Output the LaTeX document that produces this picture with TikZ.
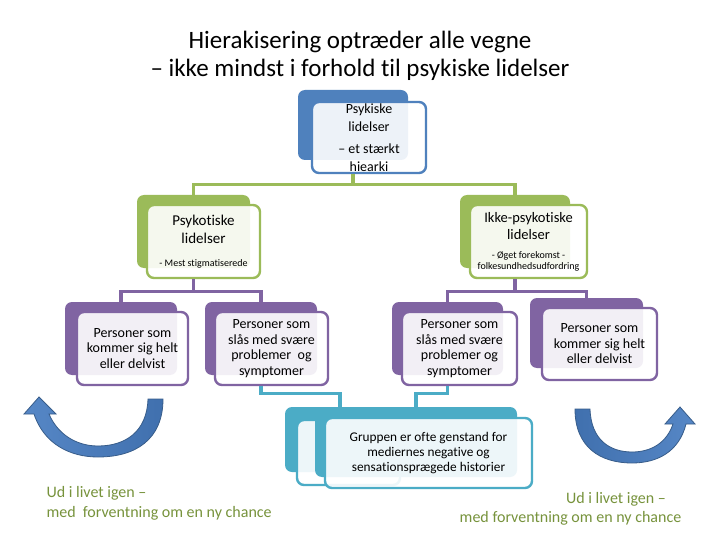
\documentclass[tikz,border=0pt]{standalone}
\usepackage{fontspec}
\setmainfont{Carlito}[Ligatures=NoCommon]
\usepackage{tikz}
\usetikzlibrary{calc}
\definecolor{hblue}{HTML}{4F81BD}
\definecolor{hgreen}{HTML}{9BBB59}
\definecolor{hpurple}{HTML}{8064A2}
\definecolor{hteal}{HTML}{4BACC6}
\definecolor{holive}{HTML}{77933C}
\definecolor{harrowline}{HTML}{385D8A}
\definecolor{harrowdark}{HTML}{4070AE}
\definecolor{harrowlight}{HTML}{5687C6}

\begin{document}
\begin{tikzpicture}[x=1pt,y=-1pt,line cap=round,
  back/.style={fill=#1,rounded corners=7pt,inner sep=0pt},
  front/.style={draw=#1,line width=2.4pt,fill=white,fill opacity=0.9,text opacity=1,
    rounded corners=7pt,inner sep=0pt,align=center},
  link/.style={draw=#1,line width=3.2pt,line cap=butt},
  boxfont/.style={font=\fontsize{14}{15.5}\selectfont},
  bend arrow/.style={draw=harrowline,line width=0.8pt}]
\fill[white] (0,0) rectangle (720,540);
\useasboundingbox (0,0) rectangle (720,540);

\node[align=center,font=\fontsize{25}{28}\selectfont] (title) at (360,56)
  {Hierakisering optræder alle vegne\\– ikke mindst i forhold til psykiske lidelser};

\node[back=hblue,minimum width=110,minimum height=70] (tb) at (353,125) {};
\node[back=hgreen,minimum width=113,minimum height=73] (gl) at (193.5,231.5) {};
\node[back=hgreen,minimum width=110,minimum height=73] (gr) at (515,231.5) {};
\node[back=hpurple,minimum width=112,minimum height=73] (p1) at (121,338.5) {};
\node[back=hpurple,minimum width=112,minimum height=73] (p2) at (261,338.5) {};
\node[back=hpurple,minimum width=111,minimum height=73] (p3) at (447.5,338.5) {};
\node[back=hpurple,minimum width=113,minimum height=70] (p4) at (586.5,333) {};

\node[front=hblue,minimum width=114,minimum height=71,font=\fontsize{14}{17.5}\selectfont] (tbf) at (369,137.5)
  {Psykiske\\lidelser\\[5pt]– et stærkt\\hiearki};
\node[front=hgreen,minimum width=113,minimum height=73,font=\fontsize{15}{18}\selectfont] (glf) at (203.5,241.5)
  {Psykotiske\\lidelser\\[5pt]{\fontsize{10}{11}\selectfont - Mest stigmatiserede}};
\node[front=hgreen,minimum width=117,minimum height=73,font=\fontsize{14.5}{17}\selectfont] (grf) at (528.5,241.5)
  {Ikke-psykotiske\\lidelser\\[2pt]{\fontsize{10}{11}\selectfont - Øget forekomst -}\\[-6pt]{\fontsize{10}{11}\selectfont folkesundhedsudfordring}};

\draw[link=hgreen] (tb |- tbf.south) -- ++(0,10) -| (gl.north);
\draw[link=hgreen] (tb |- tbf.south) -- ++(0,10) -| (gr.north);
\draw[link=hpurple] (gl |- glf.south) -- ++(0,12) -| (p1.north);
\draw[link=hpurple] (gl |- glf.south) -- ++(0,12) -| (p2.north);
\draw[link=hpurple] (gr |- grf.south) -- ++(0,12) -| (p3.north);
\draw[link=hpurple] (gr |- grf.south) -- ++(0,12) -| (p4.north);

\node[front=hpurple,minimum width=111,minimum height=73,boxfont] (p1f) at (132.5,348.5)
  {Personer som\\kommer sig helt\\eller delvist};
\node[front=hpurple,minimum width=113,minimum height=73,boxfont] (p2f) at (271.5,348.5)
  {Personer som\\slås med svære\\problemer~ og\\symptomer};
\node[front=hpurple,minimum width=115,minimum height=73,boxfont] (p3f) at (459.5,348.5)
  {Personer som\\slås med svære\\problemer og\\symptomer};
\node[front=hpurple,minimum width=115,minimum height=72,boxfont] (p4f) at (599.5,344)
  {Personer som\\kommer sig helt\\eller delvist};

\node[back=hteal,minimum width=110,minimum height=65] (t1) at (340,439.5) {};
\node[front=hteal,minimum width=103,minimum height=65] (t1f) at (348.5,452.5) {};
\node[back=hteal,minimum width=202,minimum height=70] (t2) at (416,442) {};
\node[front=hteal,minimum width=207,minimum height=70,font=\fontsize{13.3}{15}\selectfont] (t2f) at (428.5,453)
  {Gruppen er ofte genstand for\\mediernes negative og\\sensationsprægede historier};

\draw[link=hteal] (p2 |- p2f.south) -- ++(0,7) -| (t1.north);
\draw[link=hteal] (p3 |- p3f.south) -- ++(0,7) -| (t2.north);

\draw[bend arrow,left color=harrowlight,right color=harrowdark]
  (163,399) -- (148,399)
  .. controls (147,432) and (125,446) .. (98,446)
  .. controls (75,446) and (57,433) .. (49,414)
  -- (56,414) -- (39,397) -- (24,414) -- (34,414)
  .. controls (44,444) and (70,457) .. (98,457)
  .. controls (135,457) and (163,440) .. (163,399) -- cycle;
\draw[bend arrow,left color=harrowdark,right color=harrowlight]
  (575,409) -- (590,409)
  .. controls (591,440) and (610,452) .. (632,452)
  .. controls (652,452) and (667,442) .. (673,424)
  -- (665,424) -- (680,407) -- (695,424) -- (686,424)
  .. controls (679,452) and (657,463) .. (632,463)
  .. controls (600,463) and (575,447) .. (575,409) -- cycle;

\node[align=left,anchor=west,text=holive,font=\fontsize{16}{20}\selectfont] (ltext) at (43,503)
  {Ud i livet igen –\\med~ forventning om en ny chance};
\node[text=holive,font=\fontsize{16}{20}\selectfont] (rtext1) at (616,499) {Ud i livet igen –};
\node[text=holive,font=\fontsize{16}{20}\selectfont] (rtext2) at (570.5,518) {med forventning om en ny chance};
\end{tikzpicture}
\end{document}
